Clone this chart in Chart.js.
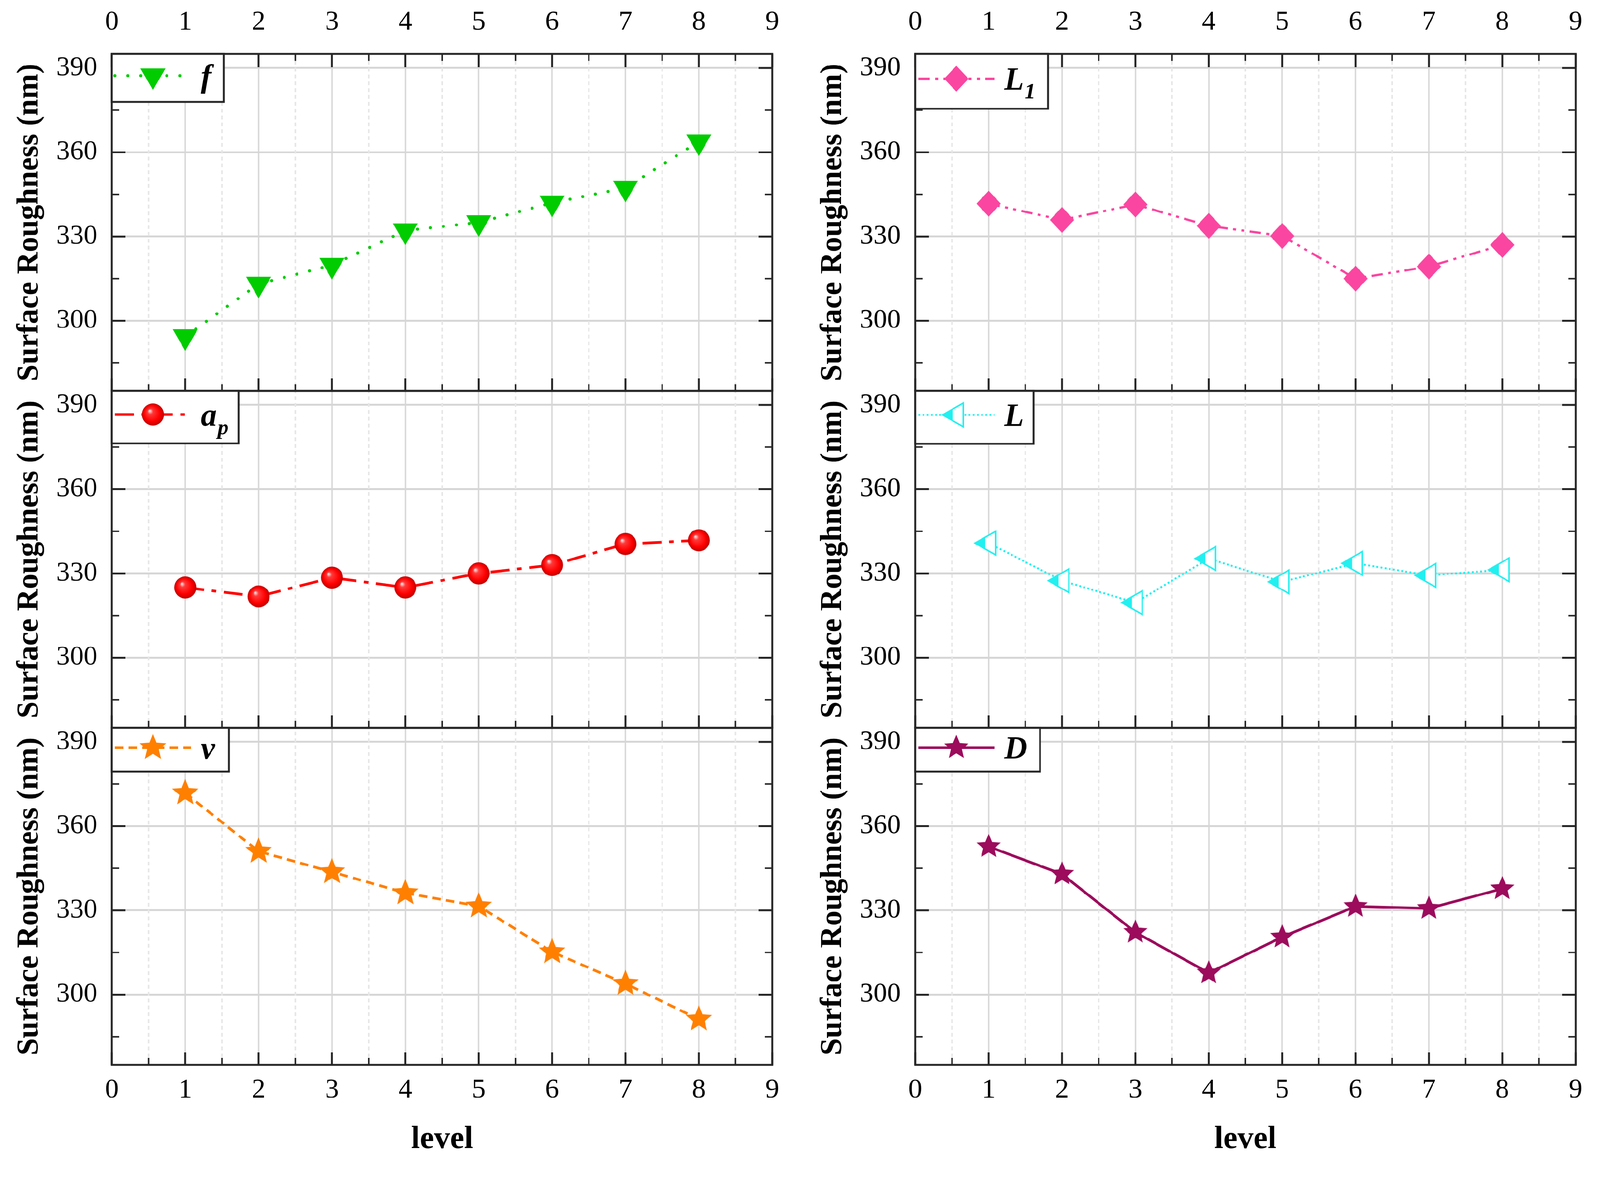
<!DOCTYPE html>
<html>
<head>
<meta charset="utf-8">
<script src="https://cdn.jsdelivr.net/npm/chart.js@4.4.1/dist/chart.umd.min.js"></script>
<style>
  html, body { margin: 0; padding: 0; background: #fff; overflow: hidden; }
  #stage { position: absolute; left: 0; top: 0; width: 4206px; height: 3050px; transform-origin: 0 0; }
  .col { position: absolute; top: 0; width: 2094px; height: 3050px; }
</style>
</head>
<body>
<div id="stage">
  <div class="col" style="left:0"><canvas id="leftChart" width="2094" height="3050"></canvas></div>
  <div class="col" style="left:2112px"><canvas id="rightChart" width="2094" height="3050"></canvas></div>
</div>
<script>
// x axis: factor level
var levels = [1, 2, 3, 4, 5, 6, 7, 8];
var xTickValues = [0, 1, 2, 3, 4, 5, 6, 7, 8, 9];
var xMinorValues = [0.5, 1.5, 2.5, 3.5, 4.5, 5.5, 6.5, 7.5, 8.5];
var yTickValues = [300, 330, 360, 390];
var yMinorValues = [285, 315, 345, 375];

// surface roughness (nm) at each level
var fValues  = [294.4, 313.1, 319.8, 332.1, 335.0, 342.0, 347.3, 363.8];
var apValues = [325.0, 321.8, 328.5, 325.0, 330.0, 333.0, 340.5, 341.8];
var vValues  = [371.8, 351.0, 343.7, 336.2, 331.5, 315.2, 303.9, 291.2];
var l1Values = [341.7, 335.9, 341.4, 333.8, 330.2, 315.0, 319.3, 327.0];
var lValues  = [340.8, 327.4, 319.6, 335.3, 327.0, 333.6, 329.3, 331.3];
var dValues  = [352.7, 342.9, 322.2, 307.7, 320.5, 331.4, 330.7, 337.7];

var SERIF = "'Liberation Serif', 'Times New Roman', serif";
Chart.defaults.font.family = SERIF;

// fit the 4206 x 3050 drawing to whatever viewport we get
var fitScale = Math.min(window.innerWidth / 4206, window.innerHeight / 3050);
if (fitScale > 0 && Math.abs(fitScale - 1) > 0.001) {
  document.getElementById('stage').style.transform = 'scale(' + fitScale + ')';
}

// ---- marker images (shapes only, positions come from the scales) ----
function markerCanvas(w, h, paint) {
  var c = document.createElement('canvas');
  c.width = w; c.height = h;
  paint(c.getContext('2d'), w / 2, h / 2);
  return c;
}

function triangleDown(color) {
  // centroid sits on the canvas centre
  return markerCanvas(72, 80, function (g, cx, cy) {
    g.beginPath();
    g.moveTo(cx - 33, cy - 19);
    g.lineTo(cx + 33, cy - 19);
    g.lineTo(cx, cy + 38);
    g.closePath();
    g.fillStyle = color;
    g.fill();
  });
}

function ball(color) {
  return markerCanvas(64, 64, function (g, cx, cy) {
    var grad = g.createRadialGradient(cx - 9, cy - 10, 1, cx, cy, 29);
    grad.addColorStop(0, '#ffe0e0');
    grad.addColorStop(0.22, '#ff3a3a');
    grad.addColorStop(0.7, color);
    grad.addColorStop(1, '#c00000');
    g.beginPath();
    g.arc(cx, cy, 29, 0, Math.PI * 2);
    g.fillStyle = grad;
    g.fill();
  });
}

function star(color, R, r) {
  return markerCanvas(2 * R + 8, 2 * R + 8, function (g, cx, cy) {
    g.beginPath();
    for (var i = 0; i < 10; i++) {
      var rad = (i % 2 === 0) ? R : r;
      var a = -Math.PI / 2 + i * Math.PI / 5;
      var px = cx + rad * Math.cos(a), py = cy + rad * Math.sin(a);
      if (i === 0) g.moveTo(px, py); else g.lineTo(px, py);
    }
    g.closePath();
    g.fillStyle = color;
    g.fill();
    g.lineWidth = 2;
    g.strokeStyle = color;
    g.stroke();
  });
}

function diamond(color) {
  return markerCanvas(70, 74, function (g, cx, cy) {
    g.beginPath();
    g.moveTo(cx, cy - 34);
    g.lineTo(cx + 32, cy);
    g.lineTo(cx, cy + 34);
    g.lineTo(cx - 32, cy);
    g.closePath();
    g.fillStyle = color;
    g.fill();
  });
}

function triangleLeft(color) {
  // left pointing, left half filled, centroid on the canvas centre
  return markerCanvas(84, 72, function (g, cx, cy) {
    function path() {
      g.beginPath();
      g.moveTo(cx - 36, cy);
      g.lineTo(cx + 18, cy - 31);
      g.lineTo(cx + 18, cy + 31);
      g.closePath();
    }
    path();
    g.fillStyle = '#fff';
    g.fill();
    g.save();
    path();
    g.clip();
    g.fillStyle = color;
    g.fillRect(cx - 40, cy - 40, 31, 80);
    g.restore();
    path();
    g.lineWidth = 4;
    g.strokeStyle = color;
    g.stroke();
  });
}

var GREEN = '#00cc00', RED = '#ff0000', ORANGE = '#ff8000';
var PINK = '#fa46a0', CYAN = '#22f0f0', WINE = '#9c0b5c';

function points(values) {
  return levels.map(function (lv, i) { return { x: lv, y: values[i] }; });
}

function series(label, sub, values, axis, color, dash, width, marker, boxW, boxH) {
  return {
    label: label,
    legendSub: sub,
    legendBox: { w: boxW, h: boxH },
    data: points(values),
    yAxisID: axis,
    borderColor: color,
    backgroundColor: color,
    borderWidth: width,
    borderDash: dash,
    borderCapStyle: dash.length && dash[0] < 1 ? 'round' : 'butt',
    pointStyle: marker,
    pointRadius: 30,
    pointHoverRadius: 30,
    tension: 0,
    fill: false
  };
}

function yAxis() {
  return {
    type: 'linear',
    position: 'left',
    stack: 'panels',
    stackWeight: 1,
    min: 275,
    max: 395,
    afterBuildTicks: function (s) { s.ticks = yTickValues.map(function (v) { return { value: v }; }); },
    afterFit: function (s) { s.width = 294; },
    grid: { color: '#d6d6d6', lineWidth: 5, drawTicks: false },
    border: { display: false },
    ticks: { padding: 38, color: '#000', font: { family: SERIF, size: 72 } },
    title: {
      display: true, text: 'Surface Roughness (nm)', color: '#000',
      font: { family: SERIF, size: 80, weight: 'bold' }, padding: { top: 30, bottom: 0 }
    }
  };
}

var PANEL_IDS = ['yTop', 'yMid', 'yBot'];

// frames, inward ticks, minor grid and legend boxes
var panelDecor = {
  id: 'panelDecor',
  beforeDatasetsDraw: function (chart) {
    var ctx = chart.ctx, area = chart.chartArea, xs = chart.scales.x;
    ctx.save();
    ctx.strokeStyle = '#e6e6e6';
    ctx.lineWidth = 4;
    ctx.setLineDash([10, 8]);
    xMinorValues.forEach(function (v) {
      var px = xs.getPixelForValue(v);
      ctx.beginPath();
      ctx.moveTo(px, area.top);
      ctx.lineTo(px, area.bottom);
      ctx.stroke();
    });
    ctx.restore();
  },
  afterDatasetsDraw: function (chart) {
    var ctx = chart.ctx, area = chart.chartArea, xs = chart.scales.x;
    ctx.save();
    ctx.strokeStyle = '#262626';
    ctx.lineCap = 'butt';
    PANEL_IDS.forEach(function (id, k) {
      var s = chart.scales[id];
      function seg(x1, y1, x2, y2, w) {
        ctx.lineWidth = w;
        ctx.beginPath(); ctx.moveTo(x1, y1); ctx.lineTo(x2, y2); ctx.stroke();
      }
      yTickValues.forEach(function (v) {
        var py = s.getPixelForValue(v);
        seg(area.left, py, area.left + 36, py, 5);
        seg(area.right, py, area.right - 36, py, 5);
      });
      yMinorValues.forEach(function (v) {
        var py = s.getPixelForValue(v);
        seg(area.left, py, area.left + 19, py, 4);
        seg(area.right, py, area.right - 19, py, 4);
      });
      xTickValues.forEach(function (v) {
        var px = xs.getPixelForValue(v);
        seg(px, s.bottom, px, s.bottom - 33, 5);
        if (k === 0) seg(px, s.top, px, s.top + 35, 5);
      });
      xMinorValues.forEach(function (v) {
        var px = xs.getPixelForValue(v);
        seg(px, s.bottom, px, s.bottom - 18, 4);
        if (k === 0) seg(px, s.top, px, s.top + 18, 4);
      });
      ctx.lineWidth = 5;
      ctx.strokeRect(area.left, s.top, area.right - area.left, s.bottom - s.top);
    });

    chart.data.datasets.forEach(function (ds) {
      var s = chart.scales[ds.yAxisID];
      var bx = area.left, by = s.top, bw = ds.legendBox.w, bh = ds.legendBox.h;
      ctx.fillStyle = '#fff';
      ctx.fillRect(bx, by, bw, bh);
      ctx.lineWidth = 5;
      ctx.strokeStyle = '#262626';
      ctx.setLineDash([]);
      ctx.strokeRect(bx, by, bw, bh);
      var my = by + Math.round(bh * 0.45);
      ctx.save();
      ctx.strokeStyle = ds.borderColor;
      ctx.lineWidth = ds.borderWidth;
      ctx.lineCap = ds.borderCapStyle;
      ctx.setLineDash(ds.borderDash);
      ctx.beginPath();
      ctx.moveTo(bx + 8, my);
      ctx.lineTo(bx + 208, my);
      ctx.stroke();
      ctx.restore();
      var img = ds.pointStyle;
      ctx.drawImage(img, bx + 108 - img.width / 2, my - img.height / 2);
      ctx.fillStyle = '#000';
      ctx.textAlign = 'left';
      ctx.textBaseline = 'alphabetic';
      ctx.font = 'italic bold 84px ' + SERIF;
      ctx.fillText(ds.label, bx + 234, my + 29);
      if (ds.legendSub) {
        var w = ctx.measureText(ds.label).width;
        ctx.font = 'italic bold 58px ' + SERIF;
        ctx.fillText(ds.legendSub, bx + 234 + w + 2, my + 52);
      }
    });
    ctx.restore();
  }
};

function makeChart(id, datasets) {
  return new Chart(document.getElementById(id), {
    type: 'line',
    data: { datasets: datasets },
    plugins: [panelDecor],
    options: {
      responsive: false,
      animation: false,
      devicePixelRatio: 1,
      layout: { padding: { left: 0, right: 64, top: 0, bottom: 0 }, autoPadding: false },
      plugins: { legend: { display: false }, tooltip: { enabled: false } },
      scales: {
        x: {
          type: 'linear', position: 'bottom', min: 0, max: 9,
          afterBuildTicks: function (s) { s.ticks = xTickValues.map(function (v) { return { value: v }; }); },
          afterFit: function (s) { s.height = 250; },
          grid: { color: '#dadada', lineWidth: 4, drawTicks: false },
          border: { display: false },
          ticks: { padding: 24, color: '#000', font: { family: SERIF, size: 72 } },
          title: {
            display: true, text: 'level', color: '#000',
            font: { family: SERIF, size: 84, weight: 'bold' }, padding: { top: 0, bottom: 2 }
          }
        },
        x2: {
          type: 'linear', position: 'top', min: 0, max: 9,
          afterBuildTicks: function (s) { s.ticks = xTickValues.map(function (v) { return { value: v }; }); },
          afterFit: function (s) { s.height = 142; },
          grid: { display: false, drawTicks: false },
          border: { display: false },
          ticks: { padding: 40, color: '#000', font: { family: SERIF, size: 72 } }
        },
        // stacked axes are laid out bottom-up, so the lowest panel comes first
        yBot: yAxis(),
        yMid: yAxis(),
        yTop: yAxis()
      }
    }
  });
}

makeChart('leftChart', [
  series('f', '', fValues, 'yTop', GREEN, [0.1, 34], 8, triangleDown(GREEN), 294, 126),
  series('a', 'p', apValues, 'yMid', RED, [50, 20, 12, 20], 7, ball(RED), 333, 138),
  series('v', '', vValues, 'yBot', ORANGE, [22, 14], 7, star(ORANGE, 34, 15), 308, 115)
]);

makeChart('rightChart', [
  series('L', '1', l1Values, 'yTop', PINK, [30, 14, 8, 14, 8, 14], 6, diamond(PINK), 349, 144),
  series('L', '', lValues, 'yMid', CYAN, [5, 6], 5, triangleLeft(CYAN), 311, 139),
  series('D', '', dValues, 'yBot', WINE, [], 7, star(WINE, 31, 14), 328, 115)
]);
</script>
</body>
</html>
